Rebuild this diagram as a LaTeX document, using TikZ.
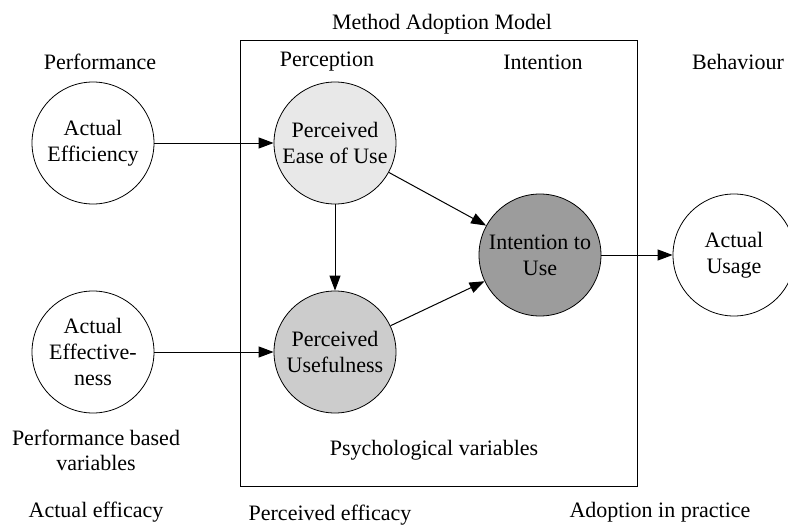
\documentclass[tikz,border=0pt]{standalone}
\usepackage{fontspec}
\setmainfont{Liberation Serif}
\usetikzlibrary{arrows.meta}
\begin{document}
\begin{tikzpicture}[x=1pt,y=-1pt,
  every node/.style={font=\fontsize{22}{26}\selectfont, inner sep=0pt, align=center},
  var/.style={circle, draw, line width=0.8pt, minimum size=122pt},
  label/.style={},
  link/.style={line width=1pt, -{Triangle[length=15pt,width=11pt]}}]
\useasboundingbox (0,0) rectangle (788,530);

% model frame
\draw[line width=1pt] (240,40) rectangle (637,486);
\node (title) at (442,24) {Method Adoption Model};

% column headings
\node[label] (hperf) at (100,62) {Performance};
\node[label] (hperc) at (327,62) {Perception};
\node[label] (hint)  at (543,62) {Intention};
\node[label] (hbeh)  at (738,62) {Behaviour};

% variables
\node[var] (eff)  at (93,143)  {Actual\\Efficiency};
\node[var] (efv)  at (93,352)  {Actual\\Effective-\\ness};
\node[var, fill=black!9]  (peou) at (335,143) {Perceived\\Ease of Use};
\node[var, fill=black!20] (pu)   at (335,352) {Perceived\\Usefulness};
\node[var, fill=black!39] (itu)  at (540,255) {Intention to\\Use};
\node[var] (use)  at (734,255) {Actual\\Usage};

% relations
\draw[link] (eff) -- (peou);
\draw[link] (efv) -- (pu);
\draw[link] (peou) -- (pu);
\draw[link] (peou) -- (itu);
\draw[link] (pu) -- (itu);
\draw[link] (itu) -- (use);

% group captions
\node[label, font=\fontsize{22}{25}\selectfont] (pbv) at (96,450) {Performance based\\variables};
\node[label] (psy) at (434,450) {Psychological variables};
\node[label] (ae)  at (96,512)  {Actual efficacy};
\node[label] (pe)  at (330,515) {Perceived efficacy};
\node[label] (aip) at (660,512) {Adoption in practice};
\end{tikzpicture}
\end{document}
